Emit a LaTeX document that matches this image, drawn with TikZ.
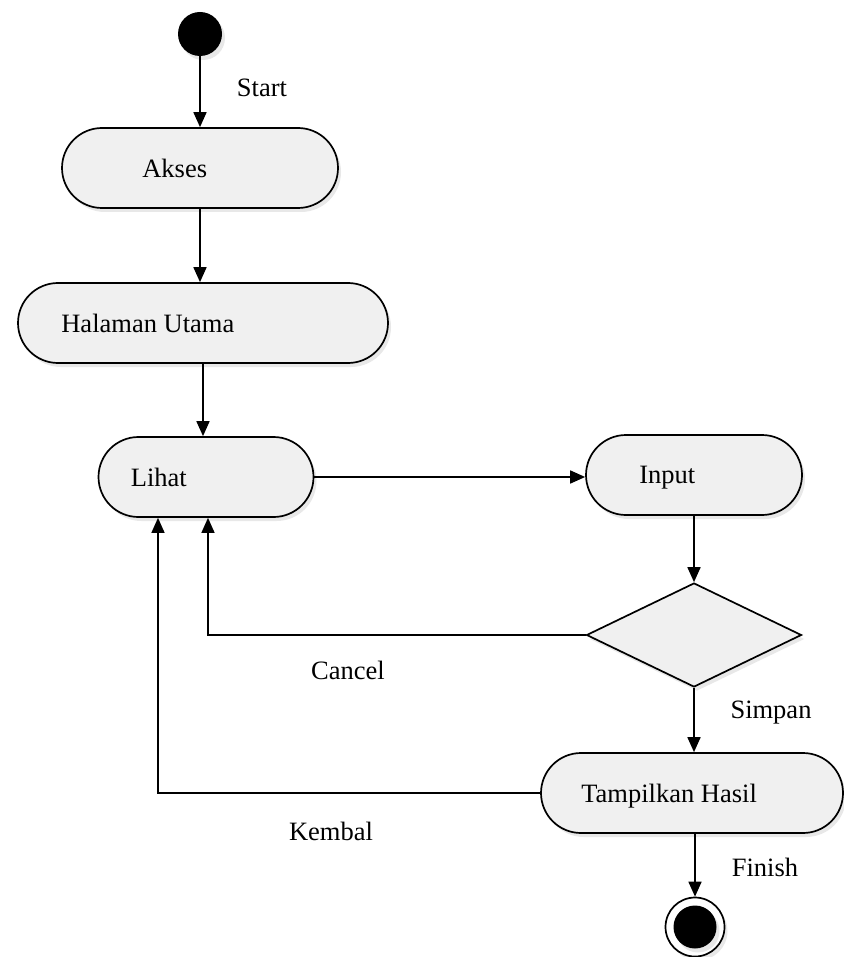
\documentclass[tikz,border=0pt]{standalone}
\usepackage{fontspec}
\setmainfont{Liberation Serif}
\usetikzlibrary{shapes.misc,shapes.geometric,arrows.meta,shadows,positioning}

\begin{document}
\begin{tikzpicture}[x=1pt,y=-1pt,
    txt/.style={font=\fontsize{26.5}{31}\selectfont, inner sep=0pt, text depth=0pt},
    shade box/.style={drop shadow={shadow xshift=3pt,shadow yshift=-4pt,opacity=0.18}},
    act/.style={rounded rectangle, draw, line width=1.7pt, fill=black!6,
        minimum height=80pt, inner sep=0pt, shade box},
    choice/.style={diamond, draw, line width=1.7pt, fill=black!6, aspect=2.07,
        minimum width=215pt, minimum height=104pt, inner sep=0pt, shade box},
    dot/.style={circle, fill=black, inner sep=0pt, shade box},
    endring/.style={circle, draw, line width=1.7pt, fill=white,
        minimum size=59pt, inner sep=0pt, shade box},
    flow/.style={line width=1.7pt, -{Triangle[width=13pt,length=15pt]}},
    back/.style={line width=1.4pt, -{Triangle[width=13pt,length=15pt]}}]

    \useasboundingbox (0,0) rectangle (843,957);

    \node [dot, minimum size=44pt] (start) at (200,34) {};

    \node [act, minimum width=276pt] (akses) at (200,168) {};
    \node [txt, right=81pt of akses.west] (aksestxt) {Akses};

    \node [act, minimum width=370pt] (halaman) at (203,323) {};
    \node [txt, right=44pt of halaman.west] (halamantxt) {Halaman Utama};

    \node [act, minimum width=215pt] (lihat) at (206,477) {};
    \node [txt, right=33pt of lihat.west] (lihattxt) {Lihat};

    \node [act, minimum width=216pt] (input) at (694,475) {};
    \node [txt, right=54pt of input.west] (inputtxt) {Input};

    \node [choice] (simpan) at (694,635) {};

    \node [act, minimum width=302pt] (tampil) at (692,793) {};
    \node [txt, right=41pt of tampil.west] (tampiltxt) {Tampilkan Hasil};

    \node [endring] (finish) at (695,927) {};
    \node [dot, minimum size=43pt] (finishdot) at (finish) {};

    \draw [flow] (start) -- (akses.north -| start);
    \draw [flow] (akses.south) -- (akses.south |- halaman.north);
    \draw [flow] (halaman.south) -- (halaman.south |- lihat.north);
    \draw [flow] (lihat.east) -- (lihat.east -| input.west);
    \draw [flow] (input.south) -- (simpan.north);
    \draw [flow] (simpan.south) -- (simpan.south |- tampil.north);
    \draw [flow] (finish.north |- tampil.south) -- (finish.north);
    \draw [back] (simpan.west) -| ([xshift=2pt]lihat.south);
    \draw [back] (tampil.west) -| ([xshift=-48pt]lihat.south);

    \node [txt] (startlbl) at (262,88) {Start};
    \node [txt] (cancellbl) at (348,670) {Cancel};
    \node [txt] (simpanlbl) at (771,710) {Simpan};
    \node [txt] (kemballbl) at (331,831) {Kembal};
    \node [txt] (finishlbl) at (765,867) {Finish};
\end{tikzpicture}
\end{document}
